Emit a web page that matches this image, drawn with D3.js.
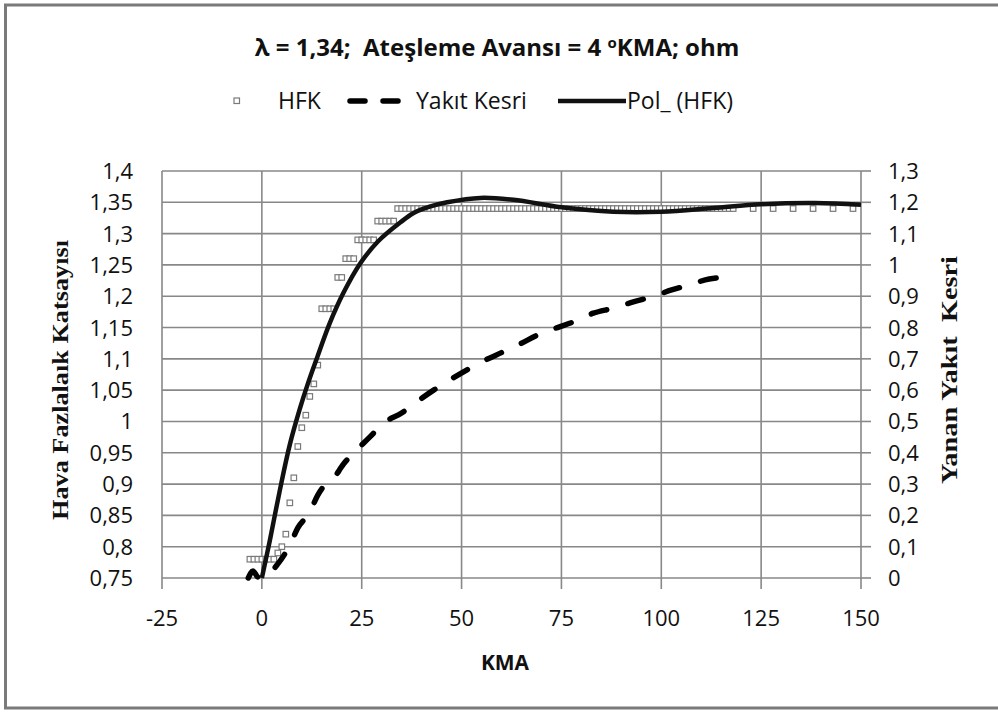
<!DOCTYPE html>
<html><head><meta charset="utf-8">
<script src="https://cdn.jsdelivr.net/npm/d3@7"></script>
<style>
html,body{margin:0;padding:0;background:#fff;}
svg{display:block;}
text{white-space:pre;}
</style></head>
<body>
<div id="chart"></div>
<script>
// ---- data ----
const xTicks = [-25, 0, 25, 50, 75, 100, 125, 150];
const yLeftTicks = [0.75,0.8,0.85,0.9,0.95,1,1.05,1.1,1.15,1.2,1.25,1.3,1.35,1.4];
const yRightTicks = [0,0.1,0.2,0.3,0.4,0.5,0.6,0.7,0.8,0.9,1,1.1,1.2,1.3];

// HFK scatter points: rising part (KMA -3 .. 33)
const hfkRiseX = [-3,-2,-1,0,1,2,3,4,5,6,7,8,9,10,11,12,13,14,15,16,17,18,19,20,21,22,23,24,25,26,27,28,29,30,31,32,33];
const hfkRiseY = [0.78,0.78,0.78,0.78,0.78,0.78,0.78,0.79,0.80,0.82,0.87,0.91,0.96,0.99,1.01,1.04,1.06,1.09,
  1.18,1.18,1.18,1.18,1.23,1.23,1.26,1.26,1.26,1.29,1.29,1.29,1.29,1.29,1.32,1.32,1.32,1.32,1.32];
// HFK scatter points: plateau (KMA 34 .. 148)
const hfkFlatX = [34,35,36,37,38,39,40,41,42,43,44,45,46,47,48,49,50,51,52,53,54,55,56,57,58,59,60,61,62,63,
  64,65,66,67,68,69,70,71,72,73,74,75,76,77,78,79,80,81,82,83,84,85,86,87,88,89,90,91,92,93,
  94,95,96,97,98,99,100,101,102,103,104,105,106,107,108,109,110,111,112,113,114,115,116,117,118,
  123,128,133,138,143,148];
const hfkFlatY = [
  1.34,1.34,1.34,1.34,1.34,1.34,1.34,1.34,1.34,1.34,
  1.34,1.34,1.34,1.34,1.34,1.34,1.34,1.34,1.34,1.34,
  1.34,1.34,1.34,1.34,1.34,1.34,1.34,1.34,1.34,1.34,
  1.34,1.34,1.34,1.34,1.34,1.34,1.34,1.34,1.34,1.34,
  1.34,1.34,1.34,1.34,1.34,1.34,1.34,1.34,1.34,1.34,
  1.34,1.34,1.34,1.34,1.34,1.34,1.34,1.34,1.34,1.34,
  1.34,1.34,1.34,1.34,1.34,1.34,1.34,1.34,1.34,1.34,
  1.34,1.34,1.34,1.34,1.34,1.34,1.34,1.34,1.34,1.34,
  1.34,1.34,1.34,1.34,1.34,1.34,1.34,1.34,1.34,1.34,
  1.34];

// Yakıt Kesri (right axis)
const fuelX = [-3.4,-2.2,-1,0,4,7,9,12,14,16,17.5,20.5,23,27,30.5,35,38.5,43,47,55,60,65,69,74,78,83,88,93,97.6,102.6,107,112,117.7];
const fuelY = [0.0,0.022,0.003,0.0,0.045,0.105,0.16,0.21,0.265,0.30,0.312,0.365,0.40,0.45,0.495,0.527,0.56,0.60,0.632,0.69,0.72,0.75,0.776,0.80,0.818,0.846,0.862,0.882,0.898,0.92,0.936,0.955,0.961];

// Pol_ (HFK) trend line (left axis)
const polX = [0,2,4.5,7,9.5,11.5,14,17,20.4,24.7,29,34.7,38,42,46.4,54.7,63,75,88,100,113,125,138.5,150];
const polY = [0.75,0.81,0.89,0.963,1.02,1.06,1.105,1.157,1.205,1.253,1.287,1.318,1.333,1.343,1.35,1.357,1.354,1.342,1.335,1.335,1.341,1.347,1.349,1.346];

const fmt = v => String(v).replace('.', ',');

// ---- layout ----
const W = 998, H = 712;
const svg = d3.select('#chart').append('svg').attr('width', W).attr('height', H);
svg.append('rect').attr('width', W).attr('height', H).attr('fill', '#fff');
svg.append('rect').attr('x', 5.5).attr('y', 5).attr('width', 1005).attr('height', 703)
  .attr('fill', 'none').attr('stroke', '#7a7a7a').attr('stroke-width', 3);

const x = d3.scaleLinear().domain([-25, 150]).range([162, 861]);
const yL = d3.scaleLinear().domain([0.75, 1.4]).range([578, 171]);
const yR = d3.scaleLinear().domain([0, 1.3]).range([578, 171]);

const gridColor = '#888';
svg.append('g').selectAll('line').data(yLeftTicks).join('line')
  .attr('x1', x(-25)).attr('x2', x(150)).attr('y1', d => yL(d)).attr('y2', d => yL(d))
  .attr('stroke', gridColor).attr('stroke-width', 1.6);
svg.append('g').selectAll('line').data(xTicks).join('line')
  .attr('x1', d => x(d)).attr('x2', d => x(d)).attr('y1', yL(1.4)).attr('y2', 589)
  .attr('stroke', gridColor).attr('stroke-width', 1.6);
svg.append('g').selectAll('line').data(yRightTicks).join('line')
  .attr('x1', x(150)).attr('x2', x(150) + 10).attr('y1', d => yR(d)).attr('y2', d => yR(d))
  .attr('stroke', gridColor).attr('stroke-width', 1.6);

const tickFont = "'Open Sans', sans-serif";
const txt = '#111';
svg.append('g').selectAll('text').data(yLeftTicks).join('text')
  .attr('x', 133).attr('y', d => yL(d) + 8).attr('text-anchor', 'end')
  .attr('font-family', tickFont).attr('font-size', 22).attr('fill', txt).text(fmt);
svg.append('g').selectAll('text').data(yRightTicks).join('text')
  .attr('x', 888).attr('y', d => yR(d) + 8).attr('text-anchor', 'start')
  .attr('font-family', tickFont).attr('font-size', 22).attr('fill', txt).text(fmt);
svg.append('g').selectAll('text').data(xTicks).join('text')
  .attr('x', d => x(d)).attr('y', 626).attr('text-anchor', 'middle')
  .attr('font-family', tickFont).attr('font-size', 22).attr('fill', txt).text(fmt);

// axis titles
svg.append('text').attr('x', 505).attr('y', 670).attr('text-anchor', 'middle')
  .attr('font-family', tickFont).attr('font-weight', 'bold').attr('font-size', 21).attr('fill', txt).text('KMA');
svg.append('text').attr('transform', 'translate(68,380) rotate(-90)').attr('text-anchor', 'middle')
  .attr('font-family', "'Liberation Serif', serif").attr('font-weight', 'bold').attr('font-size', 23)
  .attr('textLength', 280).attr('lengthAdjust', 'spacingAndGlyphs').attr('fill', txt)
  .text('Hava Fazlalaık Katsayısı');
svg.append('text').attr('transform', 'translate(957,370) rotate(-90)').attr('text-anchor', 'middle')
  .attr('font-family', "'Liberation Serif', serif").attr('font-weight', 'bold').attr('font-size', 23)
  .attr('textLength', 228).attr('lengthAdjust', 'spacingAndGlyphs').attr('fill', txt)
  .text('Yanan Yakıt  Kesri');

// title
const title = svg.append('text').attr('x', 497).attr('y', 56).attr('text-anchor', 'middle')
  .attr('font-family', tickFont).attr('font-weight', 'bold').attr('font-size', 24).attr('fill', txt);
title.append('tspan').text('λ = 1,34;  Ateşleme Avansı = 4 ');
title.append('tspan').attr('font-size', 15).attr('dy', -8).text('o');
title.append('tspan').attr('dy', 8).text('KMA; ohm');

// ---- series ----
const hfk = hfkRiseX.map((v, i) => [v, hfkRiseY[i]]).concat(hfkFlatX.map((v, i) => [v, hfkFlatY[i]]));
svg.append('g').selectAll('rect').data(hfk).join('rect')
  .attr('x', d => x(d[0]) - 2.75).attr('y', d => yL(d[1]) - 2.75).attr('width', 5.5).attr('height', 5.5)
  .attr('fill', '#fff').attr('stroke', '#7a7a7a').attr('stroke-width', 1.2);

const fuel = fuelX.map((v, i) => [v, fuelY[i]]);
svg.append('path').datum(fuel)
  .attr('d', d3.line().x(d => x(d[0])).y(d => yR(d[1])).curve(d3.curveMonotoneX))
  .attr('fill', 'none').attr('stroke', '#000').attr('stroke-width', 5.5)
  .attr('stroke-linecap', 'round').attr('stroke-dasharray', '16,22');

const pol = polX.map((v, i) => [v, polY[i]]);
svg.append('path').datum(pol)
  .attr('d', d3.line().x(d => x(d[0])).y(d => yL(d[1])).curve(d3.curveCatmullRom))
  .attr('fill', 'none').attr('stroke', '#111').attr('stroke-width', 4.5);

// ---- legend ----
const lg = svg.append('g');
const legFont = 23;
lg.append('rect').attr('x', 234).attr('y', 98).attr('width', 5.5).attr('height', 5.5)
  .attr('fill', '#fff').attr('stroke', '#7a7a7a').attr('stroke-width', 1.2);
lg.append('text').attr('x', 278).attr('y', 109).attr('font-family', tickFont).attr('font-size', legFont).attr('fill', txt).text('HFK');
lg.append('line').attr('x1', 350).attr('x2', 398).attr('y1', 101).attr('y2', 101)
  .attr('stroke', '#000').attr('stroke-width', 5.5).attr('stroke-linecap', 'round').attr('stroke-dasharray', '15,18');
lg.append('text').attr('x', 416).attr('y', 109).attr('font-family', tickFont).attr('font-size', legFont).attr('fill', txt).text('Yakıt Kesri');
lg.append('line').attr('x1', 558).attr('x2', 626).attr('y1', 101).attr('y2', 101)
  .attr('stroke', '#111').attr('stroke-width', 4.5);
lg.append('text').attr('x', 627).attr('y', 109).attr('font-family', tickFont).attr('font-size', legFont).attr('fill', txt).text('Pol_ (HFK)');
</script>
</body></html>
